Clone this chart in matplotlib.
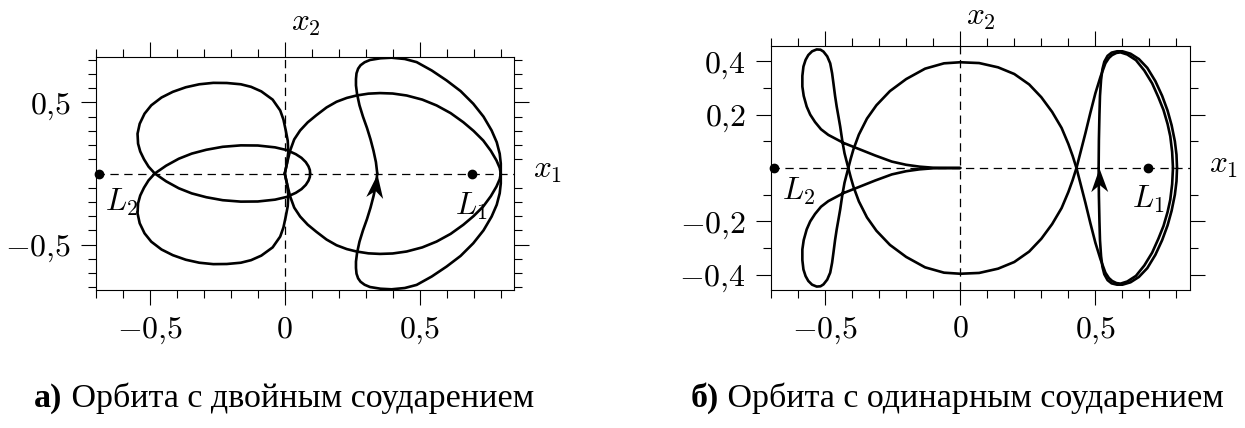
import numpy as np
import matplotlib
matplotlib.use("Agg")
import matplotlib.pyplot as plt
from matplotlib.markers import MarkerStyle
from matplotlib.path import Path
from matplotlib.transforms import Affine2D

plt.rcParams['mathtext.fontset'] = 'cm'
plt.rcParams['font.family'] = ['Liberation Serif', 'DejaVu Serif']
plt.rcParams['lines.scale_dashes'] = False

# ---------------- panel (a): orbit with a double collision ----------------
# Upper halves (x2 >= 0) of the orbit arcs; the orbit is symmetric in the x1 axis.
a_outer_x = [0.343, 0.338, 0.329, 0.318, 0.305, 0.290, 0.277, 0.268, 0.264, 0.264, 0.266, 0.272,
             0.281, 0.296, 0.316, 0.355, 0.396, 0.445, 0.489, 0.545, 0.600, 0.652, 0.699, 0.737,
             0.767, 0.786, 0.797, 0.801, 0.801]
a_outer_y = [0.000, 0.080, 0.160, 0.240, 0.320, 0.400, 0.480, 0.560, 0.620, 0.665, 0.705, 0.738,
             0.762, 0.783, 0.799, 0.811, 0.815, 0.806, 0.784, 0.725, 0.655, 0.580, 0.491, 0.400,
             0.303, 0.220, 0.139, 0.070, 0.000]

a_right_x = [0.000, 0.008, 0.020, 0.035, 0.057, 0.085, 0.117, 0.155, 0.192, 0.230, 0.266, 0.310,
             0.353, 0.400, 0.452, 0.510, 0.563, 0.615, 0.662, 0.700, 0.736, 0.764, 0.785, 0.797, 0.801]
a_right_y = [0.000, 0.070, 0.162, 0.240, 0.303, 0.360, 0.410, 0.465, 0.505, 0.532, 0.549, 0.562,
             0.566, 0.563, 0.549, 0.520, 0.479, 0.425, 0.361, 0.300, 0.232, 0.160, 0.092, 0.040, 0.000]

a_lobe_x = [0.000, 0.008, 0.013, 0.011, 0.004, -0.005, -0.017, -0.045, -0.087, -0.125, -0.163,
            -0.215, -0.265, -0.317, -0.367, -0.415, -0.457, -0.495, -0.520, -0.538, -0.546, -0.544,
            -0.536, -0.522, -0.505, -0.482]
a_lobe_y = [0.000, 0.070, 0.150, 0.230, 0.300, 0.380, 0.444, 0.520, 0.578, 0.610, 0.628, 0.637,
            0.638, 0.628, 0.607, 0.575, 0.535, 0.480, 0.421, 0.350, 0.280, 0.210, 0.155, 0.100,
            0.048, 0.000]

a_oval_x = [-0.482, -0.440, -0.393, -0.345, -0.291, -0.230, -0.163, -0.100, -0.036, 0.007, 0.041,
            0.062, 0.078, 0.088, 0.093, 0.094]
a_oval_y = [0.000, 0.055, 0.104, 0.140, 0.167, 0.188, 0.198, 0.197, 0.184, 0.165, 0.136, 0.110,
            0.080, 0.050, 0.024, 0.000]

# ---------------- panel (b): orbit with a single collision ----------------
b_tail_x = [0.000, -0.050, -0.100, -0.150, -0.200, -0.253, -0.315, -0.377, -0.432, -0.488, -0.515,
            -0.537, -0.555, -0.568, -0.579, -0.584, -0.584, -0.580, -0.572, -0.562, -0.548, -0.531,
            -0.517, -0.506, -0.492, -0.481, -0.474, -0.469, -0.463, -0.457, -0.450, -0.444, -0.436,
            -0.428, -0.414]
b_tail_y = [0.000, 0.000, 0.001, 0.005, 0.012, 0.024, 0.047, 0.072, 0.094, 0.124, 0.145, 0.172,
            0.200, 0.230, 0.270, 0.305, 0.345, 0.380, 0.405, 0.423, 0.437, 0.444, 0.443, 0.436,
            0.418, 0.392, 0.355, 0.317, 0.270, 0.230, 0.190, 0.155, 0.100, 0.055, 0.000]

b_ring_x = [-0.414, -0.405, -0.395, -0.375, -0.345, -0.310, -0.260, -0.200, -0.130, -0.060, 0.000,
            0.070, 0.140, 0.200, 0.255, 0.300, 0.340, 0.375, 0.400, 0.416, 0.430]
b_ring_y = [0.000, 0.035, 0.070, 0.125, 0.185, 0.235, 0.288, 0.333, 0.372, 0.392, 0.396, 0.393,
            0.377, 0.352, 0.313, 0.265, 0.210, 0.150, 0.090, 0.045, 0.000]

b_s_x = [0.430, 0.444, 0.463, 0.481, 0.500, 0.519, 0.537, 0.550, 0.562, 0.578, 0.593, 0.618, 0.650,
         0.681, 0.710, 0.733, 0.752, 0.767, 0.777, 0.784, 0.787]
b_s_y = [0.000, 0.055, 0.130, 0.205, 0.280, 0.342, 0.392, 0.412, 0.423, 0.431, 0.433, 0.425, 0.404,
         0.365, 0.317, 0.265, 0.217, 0.165, 0.119, 0.060, 0.000]

b_v_x = [0.512, 0.513, 0.515, 0.517, 0.521, 0.526, 0.533, 0.545, 0.560, 0.580, 0.600, 0.630, 0.661,
         0.692, 0.722, 0.747, 0.767, 0.782, 0.794, 0.800, 0.802]
b_v_y = [0.000, 0.105, 0.200, 0.270, 0.330, 0.370, 0.398, 0.420, 0.432, 0.437, 0.437, 0.428, 0.408,
         0.375, 0.325, 0.270, 0.215, 0.160, 0.100, 0.050, 0.000]

# Libration points
L1_x, L2_x = 0.695, -0.69

# Ticks and labels
x_major = [-0.5, 0.0, 0.5]
x_major_labels = [r"$-0{,}5$", r"$0$", r"$0{,}5$"]
x_minor = [-0.7, -0.6, -0.4, -0.3, -0.2, -0.1, 0.1, 0.2, 0.3, 0.4, 0.6, 0.7, 0.8]
a_y_major = [-0.5, 0.5]
a_y_major_labels = [r"$-0{,}5$", r"$0{,}5$"]
a_y_minor = [-0.8, -0.7, -0.6, -0.4, -0.3, -0.2, -0.1, 0.1, 0.2, 0.3, 0.4, 0.6, 0.7, 0.8]
b_y_major = [-0.4, -0.2, 0.2, 0.4]
b_y_major_labels = [r"$-0{,}4$", r"$-0{,}2$", r"$0{,}2$", r"$0{,}4$"]
b_y_minor = [-0.3, -0.1, 0.1, 0.3]

caption_a = ("а)", "Орбита с двойным соударением")
caption_b = ("б)", "Орбита с одинарным соударением")

W, H = 1245, 428
fig = plt.figure(figsize=(W / 100, H / 100), dpi=100)
ax_a = fig.add_axes([96 / W, (H - 290) / H, 418 / W, 233 / H])
ax_b = fig.add_axes([771 / W, (H - 289.5) / H, 419 / W, 243 / H])

LW = 1.9
TICK_FS = 23
LAB_FS = 22.5
CAP_FS = 24.5


def style_axes(ax, ylim, y_major, y_labels, y_minor):
    ax.set_xlim(-0.7, 0.85)
    ax.set_ylim(*ylim)
    ax.set_xticks(x_major)
    ax.set_xticklabels(x_major_labels)
    ax.set_xticks(x_minor, minor=True)
    ax.set_yticks(y_major)
    ax.set_yticklabels(y_labels)
    ax.set_yticks(y_minor, minor=True)
    ax.tick_params(which='both', direction='out', top=True, right=True,
                   labeltop=False, labelright=False, width=0.8, color='k')
    ax.tick_params(which='major', length=11, labelsize=TICK_FS, pad=7)
    ax.tick_params(which='minor', length=5.5)
    for sp in ax.spines.values():
        sp.set_linewidth(0.8)
    ax.axhline(0, color='k', lw=0.9, ls=(0, (6, 4)), zorder=1)
    ax.axvline(0, color='k', lw=0.9, ls=(0, (6, 4)), zorder=1)


def draw_sym(ax, xs, ys):
    xs = np.asarray(xs)
    ys = np.asarray(ys)
    for s in (1.0, -1.0):
        ax.plot(xs, s * ys, color='k', lw=LW, solid_joinstyle='round',
                solid_capstyle='round', zorder=3)


head_path = Path([(0, 0), (-1, 0.36), (-0.7, 0), (-1, -0.36), (0, 0)],
                 [Path.MOVETO, Path.LINETO, Path.LINETO, Path.LINETO, Path.CLOSEPOLY])


def arrow_head(ax, tip, tail):
    p1 = ax.transData.transform(tip)
    p0 = ax.transData.transform(tail)
    ang = np.degrees(np.arctan2(p1[1] - p0[1], p1[0] - p0[0]))
    m = MarkerStyle(head_path, transform=Affine2D().rotate_deg(ang))
    ax.plot([tip[0]], [tip[1]], marker=m, ms=34, color='k', mew=0, ls='none', zorder=4)


def axis_names(ax, dy_top):
    ax.annotate(r"$x_2$", xy=(0, 1), xycoords=('data', 'axes fraction'),
                xytext=(6, dy_top), textcoords='offset pixels', ha='left', va='center',
                fontsize=LAB_FS)
    ax.annotate(r"$x_1$", xy=(1, 0), xycoords=('axes fraction', 'data'),
                xytext=(19, 3), textcoords='offset pixels', ha='left', va='center',
                fontsize=LAB_FS)


def lib_points(ax, l2_off, l1_off):
    ax.plot([L2_x, L1_x], [0, 0], 'o', color='k', ms=6, clip_on=False, zorder=5)
    ax.annotate(r"$L_2$", xy=(L2_x, 0), xytext=l2_off, textcoords='offset pixels',
                ha='left', va='top', fontsize=LAB_FS)
    ax.annotate(r"$L_1$", xy=(L1_x, 0), xytext=l1_off, textcoords='offset pixels',
                ha='center', va='top', fontsize=LAB_FS)


# panel (a)
style_axes(ax_a, (-0.82, 0.82), a_y_major, a_y_major_labels, a_y_minor)
for xs, ys in [(a_outer_x, a_outer_y), (a_right_x, a_right_y),
               (a_lobe_x, a_lobe_y), (a_oval_x, a_oval_y)]:
    draw_sym(ax_a, xs, ys)
arrow_head(ax_a, (a_outer_x[0], -a_outer_y[0]), (a_outer_x[1], -a_outer_y[1]))
axis_names(ax_a, 33)
lib_points(ax_a, (6, -13), (-1, -17))

# panel (b)
style_axes(ax_b, (-0.455, 0.455), b_y_major, b_y_major_labels, b_y_minor)
for xs, ys in [(b_tail_x, b_tail_y), (b_ring_x, b_ring_y), (b_s_x, b_s_y), (b_v_x, b_v_y)]:
    draw_sym(ax_b, xs, ys)
arrow_head(ax_b, (b_v_x[0], -b_v_y[0]), (b_v_x[1], -b_v_y[1]))
axis_names(ax_b, 29)
lib_points(ax_b, (8, -8), (0, -16))

# captions under each panel, centred on the given pixel column
renderer = fig.canvas.get_renderer()


def caption(parts, cx_px, cy_px):
    tag, body = parts
    t1 = fig.text(0, cy_px, tag, fontsize=CAP_FS, fontweight='bold', va='center',
                  ha='left', transform=None)
    t2 = fig.text(0, cy_px, " " + body, fontsize=CAP_FS, va='center', ha='left',
                  transform=None)
    w1 = t1.get_window_extent(renderer).width
    w2 = t2.get_window_extent(renderer).width
    x0 = cx_px - (w1 + w2) / 2
    t1.set_x(x0)
    t2.set_x(x0 + w1)


caption(caption_a, 284, H - 398)
caption(caption_b, 957, H - 398)

fig.savefig("out.png", dpi=100)
